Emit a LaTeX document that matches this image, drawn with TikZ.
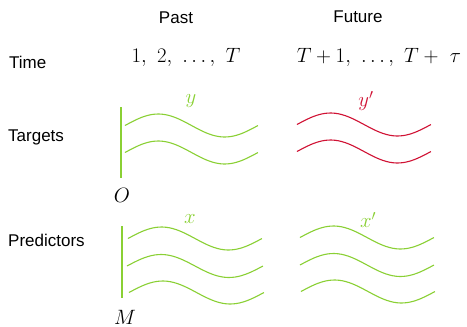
\documentclass[tikz,border=0pt]{standalone}
\usepackage{fontspec}
\setsansfont{Liberation Sans}
\usepackage{xcolor}
\usetikzlibrary{positioning}
\definecolor{wavegreen}{RGB}{138,208,52}
\definecolor{wavered}{RGB}{208,18,52}
% one period of a sine wave: start x, mid y, width, colour
\newcommand{\wave}[4]{\draw[#4, line width=1.1pt] plot[domain=0:1, samples=40, smooth] ({#1+#3*\x}, {#2-11.5*sin(360*\x)});}
\begin{document}
\begin{tikzpicture}[x=1pt, y=-1pt,
	rowlabel/.style={anchor=west, inner sep=0pt, font=\fontsize{17}{20}\sffamily},
	collabel/.style={inner sep=0pt, font=\fontsize{17}{20}\sffamily},
	timelabel/.style={inner sep=0pt, font=\fontsize{22.5}{26}\selectfont},
	serieslabel/.style={inner sep=0pt, font=\fontsize{22}{26}\selectfont}]
			\useasboundingbox (0, 0) rectangle (467, 327);
			% Headers and row labels:
			\node[collabel](N1) at (176, 18){Past};
			\node[collabel](N2) at (358, 17){Future};
			\node[rowlabel](N3) at (9, 62){Time};
			\node[rowlabel](N4) at (8, 137){Targets};
			\node[rowlabel](N5) at (8, 240){Predictors};
			\node[timelabel](N6) at (186, 57){$1,\ 2,\ \ldots,\ T$};
			\node[timelabel](N7) at (379, 57){$T+1,\ \ldots,\ T+\ \tau$};
			% Past targets:
			\node[serieslabel, text=wavegreen](N8) at (191, 101){$y$};
			\node[serieslabel](N9) at (122, 195){$O$};
			\coordinate (C1) at (121, 107);
			\draw[wavegreen, line width=1.1pt] (C1) -- (C1 |- 0, 178);
			\wave{125}{125.5}{133}{wavegreen}
			\wave{125}{152.5}{133}{wavegreen}
			% Future targets:
			\node[serieslabel, text=wavered](N10) at (366, 101){$y'$};
			\wave{297}{124.5}{134}{wavered}
			\wave{297}{151.5}{134}{wavered}
			% Past predictors:
			\node[serieslabel, text=wavegreen](N11) at (190, 219){$x$};
			\node[serieslabel](N12) at (125, 317){$M$};
			\coordinate (C2) at (122, 226);
			\draw[wavegreen, line width=1.1pt] (C2) -- (C2 |- 0, 298);
			\wave{128}{238.5}{134}{wavegreen}
			\wave{127}{266}{136}{wavegreen}
			\wave{129}{292.5}{135}{wavegreen}
			% Future predictors:
			\node[serieslabel, text=wavegreen](N13) at (368, 220){$x'$};
			\wave{300}{237.5}{134}{wavegreen}
			\wave{300}{265}{134}{wavegreen}
			\wave{301}{291.5}{134}{wavegreen}
		\end{tikzpicture}
\end{document}
